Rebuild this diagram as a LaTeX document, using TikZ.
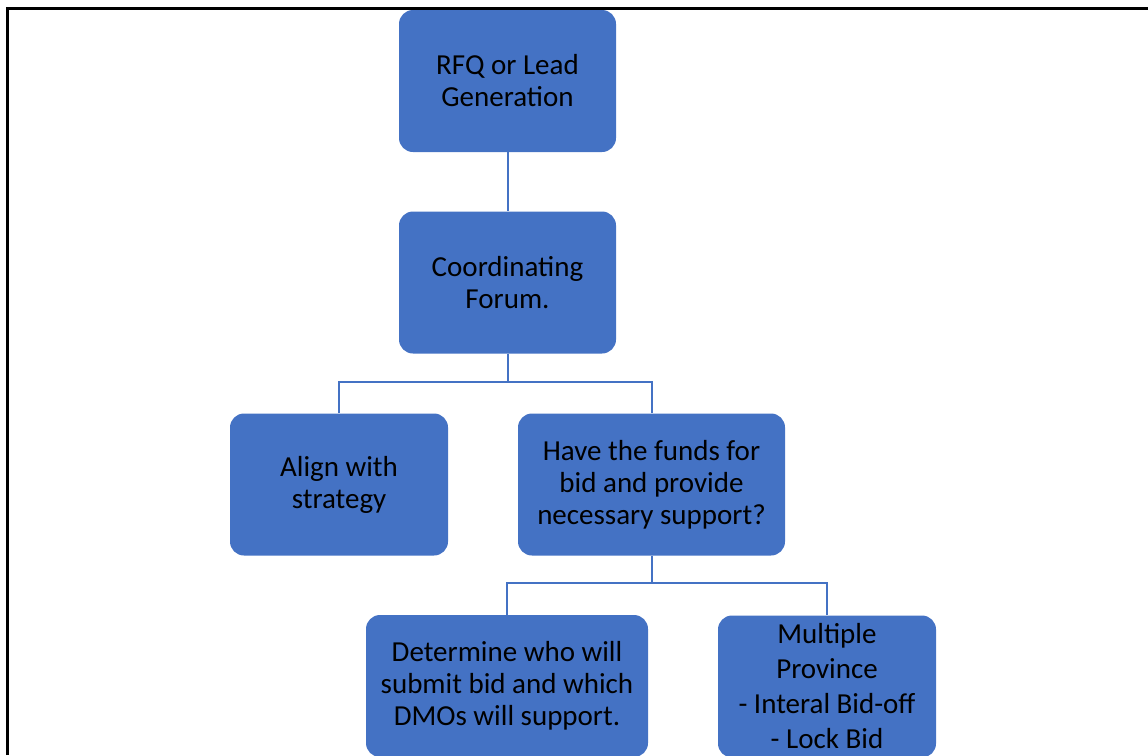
\documentclass[tikz,border=0pt]{standalone}
\usepackage{fontspec}
\setmainfont{Carlito}
\definecolor{boxblue}{HTML}{4472C4}
\definecolor{linkblue}{HTML}{4472C4}
\begin{document}
\begin{tikzpicture}[x=1pt,y=-1pt,
  box/.style={fill=boxblue, draw=none, rounded corners=14pt, inner sep=0pt,
    align=center, text=black, font=\fontsize{29}{32}\selectfont,
    minimum height=142pt},
  link/.style={draw=linkblue, line width=2pt}]
  \useasboundingbox (0,0) rectangle (1148,755);
  \clip (0,0) rectangle (1148,755);
  % outer frame (top and left edges)
  \draw[line width=3pt] (7.5,755) -- (7.5,8.5) -- (1148,8.5);

  % boxes
  \node[box, minimum width=217pt] (rfq) at (507.5,81) {RFQ or Lead\\Generation};
  \node[box, minimum width=217pt] (forum) at (507.5,282.5) {Coordinating\\Forum.};
  \node[box, minimum width=218pt] (align) at (339,484.5) {Align with\\strategy};
  \node[box, minimum width=267pt] (funds) at (651.5,484.5) {Have the funds for\\bid and provide\\necessary support?};
  \node[box, minimum width=282pt] (who) at (507,686) {Determine who will\\submit bid and which\\DMOs will support.};
  \node[box, minimum width=218pt, font=\fontsize{29}{35}\selectfont] (multi) at (827,686.5) {Multiple\\Province\\- Interal Bid-off\\- Lock Bid};

  % connectors
  \coordinate (j1) at (507.5,382);
  \coordinate (j2) at (651.5,583);
  \draw[link] (rfq.south) -- (forum.north);
  \draw[link] (forum.south) -- (j1);
  \draw[link] (align.north) |- (j1) -| (funds.north);
  \draw[link] (funds.south) -- (j2);
  \draw[link] (who.north) |- (j2) -| (multi.north);
\end{tikzpicture}
\end{document}
